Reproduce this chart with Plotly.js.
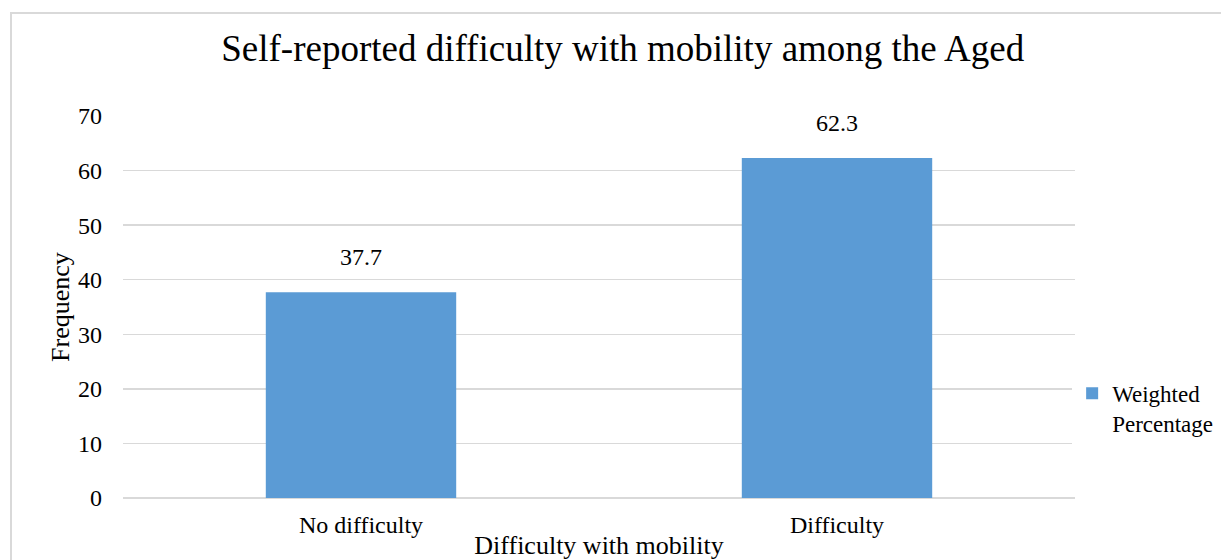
<!DOCTYPE html>
<html>
<head>
<meta charset="utf-8">
<script src="https://cdn.plot.ly/plotly-3.0.1.min.js"></script>
<style>
html,body{margin:0;padding:0;background:#fff;}
#wrap{position:relative;width:1221px;height:560px;overflow:hidden;}
#frame{position:absolute;left:10px;top:12px;width:1211px;height:560px;border-left:2px solid #d9d9d9;border-top:2px solid #d9d9d9;box-sizing:border-box;pointer-events:none;}
#chart{position:absolute;left:0;top:0;width:1221px;height:560px;}
</style>
</head>
<body>
<div id="wrap">
<div id="chart"></div>
<div id="frame"></div>
</div>
<script>
const categories = ["No difficulty", "Difficulty"];
const values = [37.7, 62.3];
const seriesName = "Weighted<br>Percentage";
const yTicks = [0, 10, 20, 30, 40, 50, 60, 70];

const font = "Liberation Serif";

const trace = {
  type: "bar",
  x: categories,
  y: values,
  name: seriesName,
  marker: {color: "#5b9bd5"},
  showlegend: true
};

const annotations = categories.map((c, i) => ({
  x: c, y: values[i], xref: "x", yref: "y",
  text: values[i].toFixed(1),
  showarrow: false, yanchor: "bottom", yshift: 20,
  font: {family: font, size: 24, color: "#000"}
}));

const layout = {
  width: 1221, height: 560,
  margin: {l: 123, r: 146, t: 116, b: 62, autoexpand: false},
  paper_bgcolor: "#fff", plot_bgcolor: "#fff",
  title: {text: "Self-reported difficulty with mobility among the Aged",
    font: {family: font, size: 37, color: "#000"},
    x: 0.510, xanchor: "center", xref: "container", y: 0.915, yanchor: "middle"},
  bargap: 0.6,
  xaxis: {
    type: "category",
    showgrid: false, zeroline: false, showline: false,
    ticks: "",
    ticklabelstandoff: 10,
    tickfont: {family: font, size: 24, color: "#000"},
    title: {text: "Difficulty with mobility", font: {family: font, size: 26, color: "#000"}, standoff: 0}
  },
  yaxis: {
    range: [0, 70], tickvals: yTicks, ticktext: yTicks.map(String),
    showgrid: true, gridcolor: "#d9d9d9", gridwidth: 1.5,
    zeroline: true, zerolinecolor: "#d9d9d9", zerolinewidth: 1.5,
    showline: false, ticks: "",
    ticklabelstandoff: 20,
    tickfont: {family: font, size: 24, color: "#000"},
    title: {text: "Frequency", font: {family: font, size: 26, color: "#000"}, standoff: 0}
  },
  legend: {
    x: 0.997, xanchor: "left", y: 0.235, yanchor: "middle",
    valign: "top",
    font: {family: font, size: 23, color: "#000"},
    itemwidth: 30, tracegroupgap: 0
  },
  annotations: annotations
};

Plotly.newPlot("chart", [trace], layout, {displayModeBar: false, staticPlot: true});
</script>
</body>
</html>
